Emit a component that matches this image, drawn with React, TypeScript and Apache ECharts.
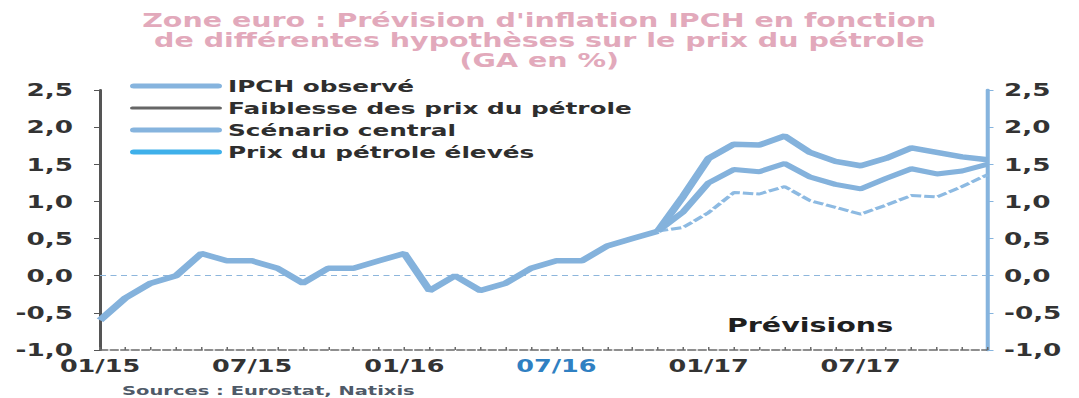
import React, { useEffect, useRef } from "react";
import * as echarts from "echarts";

// Horizontal stretch applied to the whole chart drawing
const STRETCH = 1.5;
const PAGE_W = 1079;
const PAGE_H = 398;
const CHART_W = PAGE_W / STRETCH;

const FONT = "DejaVu Sans";

// Monthly categories, 01/15 to 12/17
const months = [
  "01/15", "02/15", "03/15", "04/15", "05/15", "06/15", "07/15", "08/15", "09/15", "10/15", "11/15", "12/15",
  "01/16", "02/16", "03/16", "04/16", "05/16", "06/16", "07/16", "08/16", "09/16", "10/16", "11/16", "12/16",
  "01/17", "02/17", "03/17", "04/17", "05/17", "06/17", "07/17", "08/17", "09/17", "10/17", "11/17", "12/17",
];

// Observed HICP inflation, y/y %, 01/15 to 11/16
const ipchObserve = [
  -0.6, -0.3, -0.1, 0.0, 0.3, 0.2, 0.2, 0.1, -0.1, 0.1, 0.1, 0.2,
  0.3, -0.2, 0.0, -0.2, -0.1, 0.1, 0.2, 0.2, 0.4, 0.5, 0.6,
];

// Forecast paths, 11/16 to 12/17
const faiblessePetrole = [0.6, 0.65, 0.85, 1.12, 1.1, 1.2, 1.01, 0.92, 0.83, 0.95, 1.08, 1.06, 1.2, 1.36];
const scenarioCentral = [0.6, 0.86, 1.25, 1.43, 1.4, 1.51, 1.33, 1.23, 1.17, 1.31, 1.44, 1.37, 1.41, 1.5];
const petroleEleve = [0.6, 1.07, 1.58, 1.77, 1.76, 1.88, 1.66, 1.54, 1.48, 1.58, 1.72, 1.66, 1.6, 1.56];

const seriesNames = [
  "IPCH observé",
  "Faiblesse des prix du pétrole",
  "Scénario central",
  "Prix du pétrole élevés",
];

const titleText =
  "Zone euro : Prévision d'inflation IPCH en fonction\nde différentes hypothèses sur le prix du pétrole\n(GA en %)";
const sourceText = "Sources : Eurostat, Natixis";
const forecastText = "Prévisions";

const LINE_BLUE = "#84b2dc";
const LABEL_DARK = "#2e2e2e";

const forecastStart = ipchObserve.length - 1;
const pad = (n: number) => Array(n).fill(null);

const observedData = ipchObserve.concat(pad(months.length - ipchObserve.length));
const forecastData = (vals: number[]) => pad(forecastStart).concat(vals);

const fmt = (v: number) => v.toFixed(1).replace(".", ",");

// Legend swatches (drawn as graphics)
const legendSwatches = [
  { color: "#86b4de", h: 5 },
  { color: "#666666", h: 3 },
  { color: "#86b4de", h: 5 },
  { color: "#3fb0ea", h: 5 },
];

function buildOption() {
  const legendX = 130 / STRETCH;
  const legendW = 92 / STRETCH;
  const legendTextX = 228 / STRETCH;
  const legendRows = [86, 108, 130, 152];

  const legendGraphics: any[] = [];
  seriesNames.forEach((name, k) => {
    const sw = legendSwatches[k];
    legendGraphics.push({
      type: "rect",
      shape: { x: legendX, y: legendRows[k] - sw.h / 2, width: legendW, height: sw.h, r: sw.h / 2 },
      style: { fill: sw.color },
      silent: true,
    });
    legendGraphics.push({
      type: "text",
      x: legendTextX,
      y: legendRows[k],
      style: {
        text: name,
        font: `bold 16.5px "${FONT}"`,
        fill: LABEL_DARK,
        textVerticalAlign: "middle",
        textAlign: "left",
      },
      silent: true,
    });
  });

  return {
    animation: false,
    backgroundColor: "#ffffff",
    title: {
      text: titleText,
      left: "center",
      top: 6,
      textStyle: {
        fontFamily: FONT,
        fontWeight: "bold",
        fontSize: 19,
        lineHeight: 20,
        color: "#e2a9bb",
        align: "center",
      },
    },
    grid: {
      left: 100 / STRETCH,
      right: (PAGE_W - 988) / STRETCH,
      top: 90,
      bottom: 48,
      containLabel: false,
    },
    xAxis: {
      type: "category",
      data: months,
      boundaryGap: false,
      axisLine: {
        onZero: false,
        lineStyle: { color: "#6a6a6a", width: 1.5, type: [5, 2] },
      },
      axisTick: {
        show: true,
        inside: true,
        interval: 0,
        length: 3,
        lineStyle: { color: "#6a6a6a", width: 1 },
      },
      axisLabel: {
        interval: 5,
        margin: 8,
        fontFamily: FONT,
        fontWeight: "bold",
        fontSize: 17,
        color: (value: string) => (value === "07/16" ? "#2f80c2" : "#333333"),
      },
      splitLine: { show: false },
    },
    yAxis: [
      {
        type: "value",
        position: "left",
        min: -1,
        max: 2.5,
        interval: 0.5,
        axisLine: { show: true, lineStyle: { color: "#555555", width: 2 } },
        axisTick: { show: true, length: 4, lineStyle: { color: "#555555" } },
        axisLabel: {
          margin: 18,
          fontFamily: FONT,
          fontWeight: "bold",
          fontSize: 17.5,
          color: "#333333",
          formatter: fmt,
        },
        splitLine: { show: false },
      },
      {
        type: "value",
        position: "right",
        min: -1,
        max: 2.5,
        interval: 0.5,
        axisLine: { show: true, lineStyle: { color: "#86b4de", width: 2.7 } },
        axisTick: { show: true, length: 4, lineStyle: { color: "#86b4de" } },
        axisLabel: {
          margin: 11,
          fontFamily: FONT,
          fontWeight: "bold",
          fontSize: 17.5,
          color: "#333333",
          formatter: fmt,
        },
        splitLine: { show: false },
      },
    ],
    series: [
      {
        name: seriesNames[1],
        type: "line",
        data: forecastData(faiblessePetrole),
        symbol: "none",
        lineStyle: { color: "#8dbae2", width: 3, type: [7, 2] },
        z: 2,
      },
      {
        name: seriesNames[2],
        type: "line",
        data: forecastData(scenarioCentral),
        symbol: "none",
        lineStyle: { color: LINE_BLUE, width: 5 },
        z: 3,
      },
      {
        name: seriesNames[3],
        type: "line",
        data: forecastData(petroleEleve),
        symbol: "none",
        lineStyle: { color: LINE_BLUE, width: 5.5 },
        z: 4,
      },
      {
        name: seriesNames[0],
        type: "line",
        data: observedData,
        symbol: "none",
        lineStyle: { color: LINE_BLUE, width: 5.5 },
        z: 5,
        markLine: {
          silent: true,
          symbol: "none",
          label: { show: false },
          lineStyle: { color: "#8db6dc", width: 1, type: [4, 3] },
          data: [{ yAxis: 0 }],
        },
      },
    ],
    graphic: [
      ...legendGraphics,
      {
        type: "text",
        x: 810 / STRETCH,
        y: 326,
        style: {
          text: forecastText,
          font: `bold 19px "${FONT}"`,
          fill: "#1f1f1f",
          textAlign: "center",
          textVerticalAlign: "middle",
        },
        silent: true,
      },
      {
        type: "text",
        x: 122 / STRETCH,
        y: 391,
        style: {
          text: sourceText,
          font: `bold 13px "${FONT}"`,
          fill: "#4f5a68",
          textAlign: "left",
          textVerticalAlign: "middle",
        },
        silent: true,
      },
    ],
  };
}

export default function App() {
  const ref = useRef<HTMLDivElement>(null);

  useEffect(() => {
    if (!ref.current) return;
    const chart = echarts.init(ref.current, undefined, { renderer: "svg" });
    chart.setOption(buildOption() as any);
    return () => chart.dispose();
  }, []);

  return (
    <div
      style={{
        position: "fixed",
        left: 0,
        top: 0,
        width: PAGE_W,
        height: PAGE_H,
        background: "#ffffff",
        overflow: "hidden",
      }}
    >
      <div
        ref={ref}
        style={{
          width: CHART_W,
          height: PAGE_H,
          transform: `scaleX(${STRETCH})`,
          transformOrigin: "0 0",
        }}
      />
    </div>
  );
}
